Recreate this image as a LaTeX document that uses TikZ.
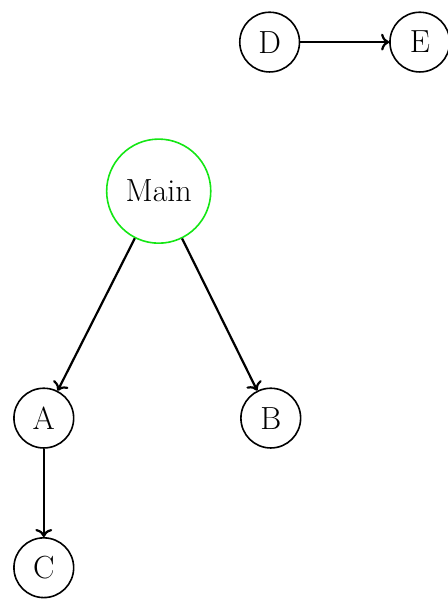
\documentclass[tikz,border=0pt]{standalone}
\usetikzlibrary{arrows.meta, positioning}
\usepackage{xcolor}
\definecolor{mgreen}{RGB}{20,230,20}

\begin{document}
\begin{tikzpicture}[
  vertex/.style={draw,circle,thick,minimum size=1.05cm,inner sep=0pt,
  font=\fontsize{16}{19}\selectfont},
  mainvertex/.style={vertex,draw=mgreen,minimum size=1.83cm},
  edge/.style={->,line width=1.1pt},
]
\useasboundingbox (0,0) rectangle (7.87,-10.53);
\node[vertex] (D) at (4.74,-0.74) {D};
\node[vertex] (E) at (7.38,-0.74) {E};
\node[mainvertex] (main) at (2.79,-3.36) {Main};
\node[vertex] (A) at (0.77,-7.35) {A};
\node[vertex] (B) at (4.76,-7.35) {B};
\node[vertex] (C) at (0.77,-9.98) {C};
\draw[edge] (D) -- (E);
\draw[edge] (main) -- (A);
\draw[edge] (main) -- (B);
\draw[edge] (A) -- (C);
\end{tikzpicture}
\end{document}
